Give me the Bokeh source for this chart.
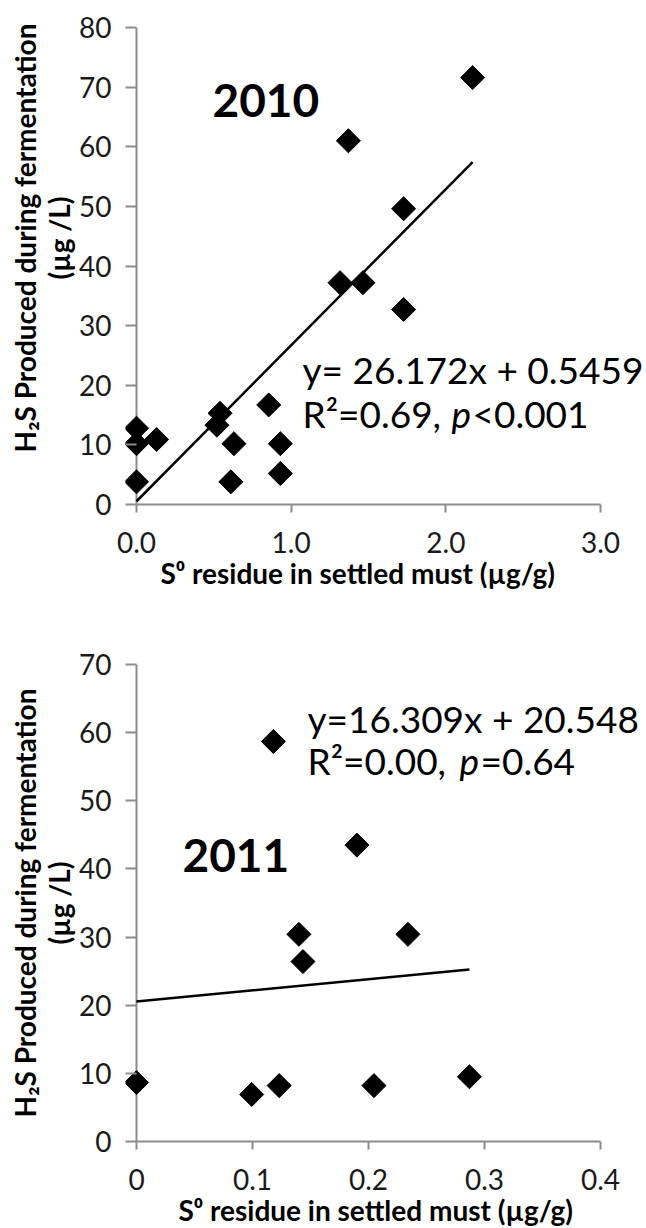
import numpy as np
from bokeh.plotting import figure
from bokeh.models import Range1d, Span, Label, FixedTicker, Title
from bokeh.layouts import column
from bokeh.embed import file_html
from bokeh.resources import INLINE

# ---------------- data ----------------
x_2010 = [0.0, 0.0, 0.0, 0.13, 0.52, 0.54, 0.61, 0.63, 0.855, 0.93, 0.93,
          1.316, 1.37, 1.464, 1.727, 1.727, 2.173]
y_2010 = [12.8, 10.2, 3.8, 10.9, 13.3, 15.3, 3.8, 10.2, 16.7, 10.2, 5.2,
          37.2, 61.0, 37.2, 49.6, 32.7, 71.6]
slope_2010 = 26.172
intercept_2010 = 0.5459

x_2011 = [0.0, 0.0993, 0.118, 0.123, 0.140, 0.1435, 0.190, 0.2047, 0.234, 0.287]
y_2011 = [8.65, 6.9, 58.7, 8.2, 30.4, 26.4, 43.5, 8.2, 30.4, 9.5]
slope_2011 = 16.309
intercept_2011 = 20.548

x_ticks_2010 = [0, 1, 2, 3]
x_tick_labels_2010 = ["0.0", "1.0", "2.0", "3.0"]
y_ticks_2010 = [0, 10, 20, 30, 40, 50, 60, 70, 80]

x_ticks_2011 = [0, 0.1, 0.2, 0.3, 0.4]
x_tick_labels_2011 = ["0", "0.1", "0.2", "0.3", "0.4"]
y_ticks_2011 = [0, 10, 20, 30, 40, 50, 60, 70]

y_title_line1 = "H\u2082S Produced during fermentation"
y_title_line2 = "(\u00b5g /L)"
x_title = "S\u2070 residue in settled must (\u00b5g/g)"

# ---------------- layout constants (page pixels) ----------------
FONT = "Lato"
GRAY = "#8c8c8c"
FIG_W = 644
AXIS_X = 136          # page x of the y axis (x = 0)
AXIS_END_X = 600      # page x of last x tick
PAD = 11              # frame padding left of x = 0
MB_LEFT = AXIS_X - PAD
MB_RIGHT = 0
FRAME_W = FIG_W - MB_LEFT - MB_RIGHT
LEAD = "\u2003\u2003\u2002"   # shifts the rotated title upward in the 2010 panel


def make_panel(xs, ys, slope, intercept, xt, xtl, yt, ymax, fig_top, fig_h,
               frame_top, frame_bottom, year, year_pos, eq1, eq2a, eq2b, eq2c,
               eq_pos, xtitle_left, ytitle_lead):
    xmax = xt[-1]
    sx = (AXIS_END_X - AXIS_X) / xmax            # px per data unit (x)
    sy = (frame_bottom - frame_top) / ymax        # px per data unit (y)
    x0 = -PAD / sx
    x1 = x0 + FRAME_W / sx

    def dx(px):
        return (px - AXIS_X) / sx

    def dy(py):
        return (frame_bottom - py) / sy

    p = figure(width=FIG_W, height=fig_h, output_backend="svg",
               toolbar_location=None,
               x_range=Range1d(x0, x1), y_range=Range1d(0, ymax),
               min_border_left=MB_LEFT, min_border_right=MB_RIGHT,
               min_border_top=frame_top - fig_top,
               min_border_bottom=fig_top + fig_h - frame_bottom)
    p.outline_line_color = None
    p.grid.visible = False
    p.background_fill_color = "white"
    p.border_fill_color = "white"

    # x axis
    xa = p.xaxis[0]
    xa.ticker = FixedTicker(ticks=xt)
    xa.major_label_overrides = {t: l for t, l in zip(xt, xtl)}
    xa.bounds = (0, xmax)
    xa.axis_line_color = GRAY
    xa.axis_line_width = 2
    xa.major_tick_line_color = GRAY
    xa.major_tick_line_width = 2
    xa.major_tick_in = 0
    xa.major_tick_out = 8
    xa.minor_tick_line_color = None
    xa.major_label_standoff = 19
    xa.major_label_text_font = FONT
    xa.major_label_text_font_size = "28px"
    xa.major_label_text_color = "#1a1a1a"

    # y axis (line drawn at x = 0 by a span)
    ya = p.yaxis[0]
    ya.ticker = FixedTicker(ticks=yt)
    ya.axis_line_color = None
    ya.major_tick_line_color = GRAY
    ya.major_tick_line_width = 2
    ya.major_tick_in = PAD
    ya.major_tick_out = 0
    ya.minor_tick_line_color = None
    ya.major_label_standoff = 14
    ya.major_label_text_font = FONT
    ya.major_label_text_font_size = "28px"
    ya.major_label_text_color = "#1a1a1a"
    ya.axis_label = ytitle_lead + y_title_line1 + "\n" + ytitle_lead + y_title_line2
    ya.axis_label_standoff = 0
    ya.axis_label_text_font = FONT
    ya.axis_label_text_font_style = "bold"
    ya.axis_label_text_font_size = "28px"
    ya.axis_label_text_color = "black"
    ya.axis_label_text_line_height = 1.0

    p.add_layout(Span(location=0, dimension="height", line_color=GRAY,
                      line_width=2, level="underlay"))

    # x title below the axis
    p.add_layout(Title(text=x_title, align="left", offset=xtitle_left - MB_LEFT,
                       vertical_align="top", standoff=0,
                       text_font=FONT, text_font_style="bold",
                       text_font_size="28px", text_color="black"), "below")

    # trend line
    lx = [0, max(xs)]
    ly = [intercept + slope * v for v in lx]
    p.line(lx, ly, line_color="black", line_width=2.5)

    # points
    p.scatter(xs, ys, marker="square", size=17, angle=np.pi / 4,
              fill_color="black", line_color="black")

    # year label
    p.add_layout(Label(x=dx(year_pos[0]), y=dy(year_pos[1]), text=year,
                       text_font=FONT, text_font_style="bold",
                       text_font_size="46px", text_color="black",
                       text_align="left", text_baseline="middle"))

    # equation
    ex, ey1, ey2, pxp, pxr = eq_pos
    common = dict(text_font=FONT, text_font_size="37px", text_color="black",
                  text_align="left", text_baseline="middle")
    p.add_layout(Label(x=dx(ex), y=dy(ey1), text=eq1, **common))
    p.add_layout(Label(x=dx(ex), y=dy(ey2), text=eq2a, **common))
    p.add_layout(Label(x=dx(pxp), y=dy(ey2), text=eq2b,
                       text_font_style="italic", **common))
    p.add_layout(Label(x=dx(pxr), y=dy(ey2), text=eq2c, **common))
    return p


p1 = make_panel(x_2010, y_2010, slope_2010, intercept_2010,
                x_ticks_2010, x_tick_labels_2010, y_ticks_2010, 80,
                fig_top=0, fig_h=608, frame_top=27, frame_bottom=504,
                year="2010", year_pos=(212, 100),
                eq1="y= 26.172x + 0.5459", eq2a="R\u00b2=0.69,", eq2b="p",
                eq2c="<0.001", eq_pos=(302, 369, 413, 451, 472),
                xtitle_left=160, ytitle_lead=LEAD)

p2 = make_panel(x_2011, y_2011, slope_2011, intercept_2011,
                x_ticks_2011, x_tick_labels_2011, y_ticks_2011, 70,
                fig_top=608, fig_h=620, frame_top=664, frame_bottom=1143,
                year="2011", year_pos=(182, 856),
                eq1="y=16.309x + 20.548", eq2a="R\u00b2=0.00,", eq2b="p",
                eq2c="=0.64", eq_pos=(307, 718, 760, 459, 480),
                xtitle_left=178, ytitle_lead="")

layout = column(p1, p2)
open("out.html", "w").write(file_html(layout, INLINE, title="H2S vs S0 residue"))
